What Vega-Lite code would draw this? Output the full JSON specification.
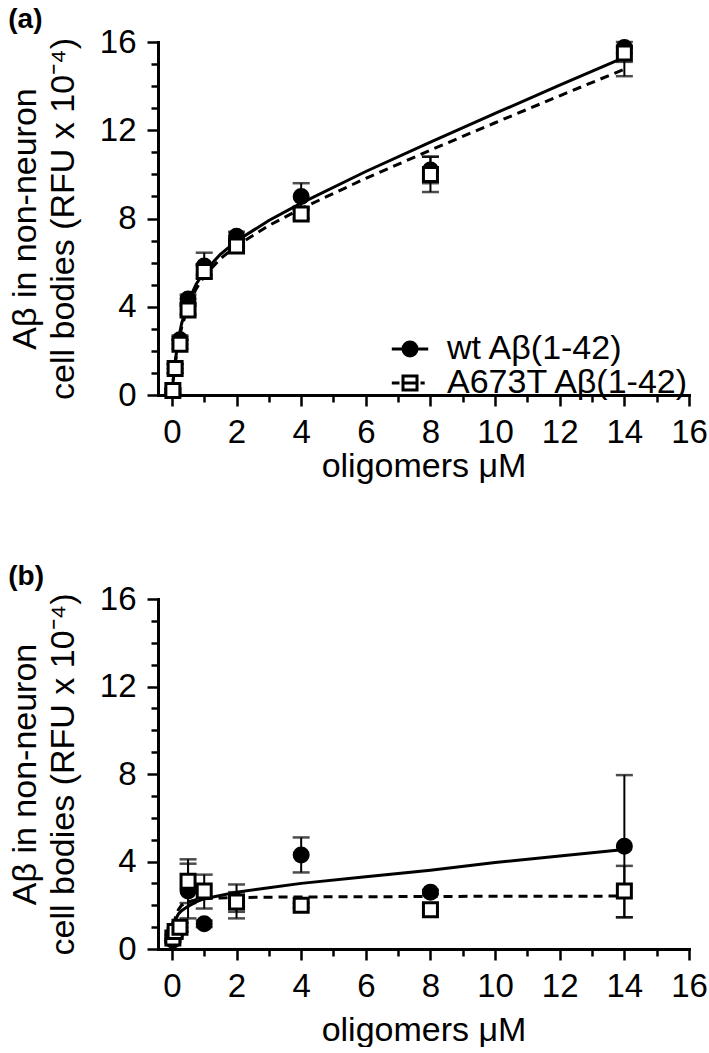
{
  "$schema": "https://vega.github.io/schema/vega-lite/v6.json",
  "background": "white",
  "padding": {"left": 8, "top": 6, "right": 5, "bottom": 0},
  "spacing": 80,
  "resolve": {"scale": {"shape": "independent", "fill": "independent"}, "legend": {"shape": "independent", "fill": "independent"}},
  "config": {
    "font": "Liberation Sans",
    "view": {"stroke": null},
    "axis": {
      "grid": false,
      "domainColor": "black", "domainWidth": 3, "domainCap": "square",
      "tickColor": "black", "tickWidth": 2.5,
      "labelColor": "black", "labelFont": "Liberation Sans", "labelFontSize": 33,
      "titleColor": "black", "titleFont": "Liberation Sans", "titleFontSize": 34, "titleFontWeight": "normal"
    },
    "title": {"font": "Liberation Sans", "fontSize": 28, "fontWeight": "bold", "color": "black", "anchor": "start", "frame": "bounds", "offset": -8},
    "legend": {"labelFont": "Liberation Sans", "labelFontSize": 34, "labelColor": "black"}
  },
  "datasets": {
    "pa": [
      {"series": "wt Aβ(1-42)", "conc": 0.03, "val": 0.2, "lo": 0.1, "hi": 0.3},
      {"series": "wt Aβ(1-42)", "conc": 0.1, "val": 1.2, "lo": 1.0, "hi": 1.4},
      {"series": "wt Aβ(1-42)", "conc": 0.25, "val": 2.5, "lo": 2.3, "hi": 2.7},
      {"series": "wt Aβ(1-42)", "conc": 0.5, "val": 4.35, "lo": 4.15, "hi": 4.55},
      {"series": "wt Aβ(1-42)", "conc": 1, "val": 5.85, "lo": 5.45, "hi": 6.45},
      {"series": "wt Aβ(1-42)", "conc": 2, "val": 7.2, "lo": 7.0, "hi": 7.4},
      {"series": "wt Aβ(1-42)", "conc": 4, "val": 9.0, "lo": 8.5, "hi": 9.6},
      {"series": "wt Aβ(1-42)", "conc": 8, "val": 10.2, "lo": 9.6, "hi": 10.8},
      {"series": "wt Aβ(1-42)", "conc": 14, "val": 15.75, "lo": 15.1, "hi": 16.0},
      {"series": "A673T Aβ(1-42)", "conc": 0.03, "val": 0.2, "lo": 0.1, "hi": 0.3},
      {"series": "A673T Aβ(1-42)", "conc": 0.1, "val": 1.2, "lo": 1.0, "hi": 1.4},
      {"series": "A673T Aβ(1-42)", "conc": 0.25, "val": 2.3, "lo": 2.1, "hi": 2.5},
      {"series": "A673T Aβ(1-42)", "conc": 0.5, "val": 3.85, "lo": 3.65, "hi": 4.05},
      {"series": "A673T Aβ(1-42)", "conc": 1, "val": 5.6, "lo": 5.3, "hi": 5.9},
      {"series": "A673T Aβ(1-42)", "conc": 2, "val": 6.75, "lo": 6.55, "hi": 6.95},
      {"series": "A673T Aβ(1-42)", "conc": 4, "val": 8.2, "lo": 8.0, "hi": 8.4},
      {"series": "A673T Aβ(1-42)", "conc": 8, "val": 10.0, "lo": 9.2, "hi": 10.8},
      {"series": "A673T Aβ(1-42)", "conc": 14, "val": 15.5, "lo": 14.45, "hi": 15.5}
    ],
    "ca": [
      {"series": "wt Aβ(1-42)", "conc": 0, "val": 0},
      {"series": "wt Aβ(1-42)", "conc": 0.05, "val": 0.84},
      {"series": "wt Aβ(1-42)", "conc": 0.1, "val": 1.51},
      {"series": "wt Aβ(1-42)", "conc": 0.2, "val": 2.51},
      {"series": "wt Aβ(1-42)", "conc": 0.3, "val": 3.23},
      {"series": "wt Aβ(1-42)", "conc": 0.5, "val": 4.22},
      {"series": "wt Aβ(1-42)", "conc": 0.75, "val": 5.02},
      {"series": "wt Aβ(1-42)", "conc": 1, "val": 5.58},
      {"series": "wt Aβ(1-42)", "conc": 1.5, "val": 6.38},
      {"series": "wt Aβ(1-42)", "conc": 2, "val": 6.98},
      {"series": "wt Aβ(1-42)", "conc": 3, "val": 7.91},
      {"series": "wt Aβ(1-42)", "conc": 4, "val": 8.7},
      {"series": "wt Aβ(1-42)", "conc": 6, "val": 10.13},
      {"series": "wt Aβ(1-42)", "conc": 8, "val": 11.46},
      {"series": "wt Aβ(1-42)", "conc": 10, "val": 12.76},
      {"series": "wt Aβ(1-42)", "conc": 12, "val": 14.04},
      {"series": "wt Aβ(1-42)", "conc": 14, "val": 15.3},
      {"series": "A673T Aβ(1-42)", "conc": 0, "val": 0},
      {"series": "A673T Aβ(1-42)", "conc": 0.05, "val": 0.77},
      {"series": "A673T Aβ(1-42)", "conc": 0.1, "val": 1.4},
      {"series": "A673T Aβ(1-42)", "conc": 0.2, "val": 2.35},
      {"series": "A673T Aβ(1-42)", "conc": 0.3, "val": 3.05},
      {"series": "A673T Aβ(1-42)", "conc": 0.5, "val": 4.02},
      {"series": "A673T Aβ(1-42)", "conc": 0.75, "val": 4.81},
      {"series": "A673T Aβ(1-42)", "conc": 1, "val": 5.38},
      {"series": "A673T Aβ(1-42)", "conc": 1.5, "val": 6.18},
      {"series": "A673T Aβ(1-42)", "conc": 2, "val": 6.76},
      {"series": "A673T Aβ(1-42)", "conc": 3, "val": 7.68},
      {"series": "A673T Aβ(1-42)", "conc": 4, "val": 8.45},
      {"series": "A673T Aβ(1-42)", "conc": 6, "val": 9.82},
      {"series": "A673T Aβ(1-42)", "conc": 8, "val": 11.1},
      {"series": "A673T Aβ(1-42)", "conc": 10, "val": 12.34},
      {"series": "A673T Aβ(1-42)", "conc": 12, "val": 13.56},
      {"series": "A673T Aβ(1-42)", "conc": 14, "val": 14.77}
    ],
    "pb": [
      {"series": "wt Aβ(1-42)", "conc": 0.03, "val": 0.4, "lo": 0.3, "hi": 0.5},
      {"series": "wt Aβ(1-42)", "conc": 0.1, "val": 0.7, "lo": 0.55, "hi": 0.85},
      {"series": "wt Aβ(1-42)", "conc": 0.25, "val": 1.0, "lo": 0.8, "hi": 1.2},
      {"series": "wt Aβ(1-42)", "conc": 0.5, "val": 2.65, "lo": 1.4, "hi": 3.9},
      {"series": "wt Aβ(1-42)", "conc": 1, "val": 1.15, "lo": 1.0, "hi": 1.3},
      {"series": "wt Aβ(1-42)", "conc": 2, "val": 2.2, "lo": 1.4, "hi": 2.95},
      {"series": "wt Aβ(1-42)", "conc": 4, "val": 4.3, "lo": 3.5, "hi": 5.1},
      {"series": "wt Aβ(1-42)", "conc": 8, "val": 2.6, "lo": 2.5, "hi": 2.7},
      {"series": "wt Aβ(1-42)", "conc": 14, "val": 4.7, "lo": 1.45, "hi": 7.95},
      {"series": "A673T Aβ(1-42)", "conc": 0.03, "val": 0.5, "lo": 0.35, "hi": 0.65},
      {"series": "A673T Aβ(1-42)", "conc": 0.1, "val": 0.8, "lo": 0.65, "hi": 0.95},
      {"series": "A673T Aβ(1-42)", "conc": 0.25, "val": 1.0, "lo": 0.8, "hi": 1.2},
      {"series": "A673T Aβ(1-42)", "conc": 0.5, "val": 3.1, "lo": 2.1, "hi": 4.1},
      {"series": "A673T Aβ(1-42)", "conc": 1, "val": 2.65, "lo": 1.85, "hi": 3.4},
      {"series": "A673T Aβ(1-42)", "conc": 2, "val": 2.15, "lo": 1.7, "hi": 2.6},
      {"series": "A673T Aβ(1-42)", "conc": 4, "val": 2.0, "lo": 1.9, "hi": 2.1},
      {"series": "A673T Aβ(1-42)", "conc": 8, "val": 1.8, "lo": 1.7, "hi": 1.9},
      {"series": "A673T Aβ(1-42)", "conc": 14, "val": 2.65, "lo": 1.45, "hi": 3.8}
    ],
    "cb": [
      {"series": "wt Aβ(1-42)", "conc": 0, "val": 0.35},
      {"series": "wt Aβ(1-42)", "conc": 0.05, "val": 0.9},
      {"series": "wt Aβ(1-42)", "conc": 0.1, "val": 1.3},
      {"series": "wt Aβ(1-42)", "conc": 0.2, "val": 1.6},
      {"series": "wt Aβ(1-42)", "conc": 0.3, "val": 1.75},
      {"series": "wt Aβ(1-42)", "conc": 0.5, "val": 1.95},
      {"series": "wt Aβ(1-42)", "conc": 0.75, "val": 2.15},
      {"series": "wt Aβ(1-42)", "conc": 1, "val": 2.3},
      {"series": "wt Aβ(1-42)", "conc": 1.5, "val": 2.45},
      {"series": "wt Aβ(1-42)", "conc": 2, "val": 2.6},
      {"series": "wt Aβ(1-42)", "conc": 3, "val": 2.8},
      {"series": "wt Aβ(1-42)", "conc": 4, "val": 3.0},
      {"series": "wt Aβ(1-42)", "conc": 6, "val": 3.3},
      {"series": "wt Aβ(1-42)", "conc": 8, "val": 3.6},
      {"series": "wt Aβ(1-42)", "conc": 10, "val": 3.95},
      {"series": "wt Aβ(1-42)", "conc": 12, "val": 4.25},
      {"series": "wt Aβ(1-42)", "conc": 14, "val": 4.55},
      {"series": "A673T Aβ(1-42)", "conc": 0, "val": 0.4},
      {"series": "A673T Aβ(1-42)", "conc": 0.05, "val": 1.0},
      {"series": "A673T Aβ(1-42)", "conc": 0.1, "val": 1.4},
      {"series": "A673T Aβ(1-42)", "conc": 0.2, "val": 1.8},
      {"series": "A673T Aβ(1-42)", "conc": 0.3, "val": 2.0},
      {"series": "A673T Aβ(1-42)", "conc": 0.5, "val": 2.15},
      {"series": "A673T Aβ(1-42)", "conc": 0.75, "val": 2.25},
      {"series": "A673T Aβ(1-42)", "conc": 1, "val": 2.3},
      {"series": "A673T Aβ(1-42)", "conc": 1.5, "val": 2.33},
      {"series": "A673T Aβ(1-42)", "conc": 2, "val": 2.35},
      {"series": "A673T Aβ(1-42)", "conc": 3, "val": 2.37},
      {"series": "A673T Aβ(1-42)", "conc": 4, "val": 2.38},
      {"series": "A673T Aβ(1-42)", "conc": 6, "val": 2.39},
      {"series": "A673T Aβ(1-42)", "conc": 8, "val": 2.4},
      {"series": "A673T Aβ(1-42)", "conc": 10, "val": 2.41},
      {"series": "A673T Aβ(1-42)", "conc": 12, "val": 2.41},
      {"series": "A673T Aβ(1-42)", "conc": 14, "val": 2.42}
    ]
  },
  "vconcat": [
    {
      "title": {"text": "(a)"},
      "width": 531,
      "height": 353,
      "encoding": {
        "x": {"field": "conc", "type": "quantitative",
          "scale": {"domain": [-0.43, 16], "nice": false, "zero": false},
          "axis": {"title": "oligomers μM", "values": [0,1,2,3,4,5,6,7,8,9,10,11,12,13,14,15,16],
            "labelExpr": "datum.value % 2 === 0 ? datum.label : ''",
            "tickSize": {"condition": {"test": "datum.value % 2 === 0", "value": 11}, "value": 7},
            "labelPadding": 10, "titlePadding": 0, "labelFlush": false, "labelOverlap": false}},
        "y": {"field": "val", "type": "quantitative",
          "scale": {"domain": [0, 16], "nice": false, "zero": false},
          "axis": {"title": ["Aβ in non-neuron", "cell bodies (RFU x 10⁻⁴)"], "values": [0,1,2,3,4,5,6,7,8,9,10,11,12,13,14,15,16],
            "labelExpr": "datum.value % 4 === 0 ? datum.label : ''",
            "tickSize": {"condition": {"test": "datum.value % 4 === 0", "value": 11}, "value": 7},
            "labelPadding": 11, "titlePadding": 19, "titleLineHeight": 38}}
      },
      "layer": [
        {"data": {"name": "ca"}, "transform": [{"filter": "datum.series === 'wt Aβ(1-42)'"}],
          "mark": {"type": "line", "color": "black", "strokeWidth": 3}},
        {"data": {"name": "ca"}, "transform": [{"filter": "datum.series === 'A673T Aβ(1-42)'"}],
          "mark": {"type": "line", "color": "black", "strokeWidth": 3, "strokeDash": [9, 6]}},
        {"data": {"name": "pa"}, "mark": {"type": "rule", "color": "black", "strokeWidth": 2},
          "encoding": {"y": {"field": "lo", "type": "quantitative"}, "y2": {"field": "hi"}}},
        {"data": {"name": "pa"}, "mark": {"type": "tick", "orient": "horizontal", "color": "black", "thickness": 2.5, "size": 17},
          "encoding": {"y": {"field": "lo", "type": "quantitative"}}},
        {"data": {"name": "pa"}, "mark": {"type": "tick", "orient": "horizontal", "color": "black", "thickness": 2.5, "size": 17},
          "encoding": {"y": {"field": "hi", "type": "quantitative"}}},
        {"data": {"name": "pa"}, "transform": [{"filter": "datum.series === 'wt Aβ(1-42)'"}],
          "mark": {"type": "point", "shape": "circle", "filled": true, "fill": "black", "stroke": "black", "strokeWidth": 3, "size": 196, "opacity": 1}},
        {"data": {"name": "pa"}, "transform": [{"filter": "datum.series === 'A673T Aβ(1-42)'"}],
          "mark": {"type": "point", "shape": "square", "filled": true, "fill": "white", "stroke": "black", "strokeWidth": 3, "size": 196, "opacity": 1}},
        {"data": {"name": "pa"},
          "mark": {"type": "point", "filled": true, "stroke": "black", "strokeWidth": 3, "size": 0, "opacity": 1},
          "encoding": {
            "shape": {"field": "series", "type": "nominal",
              "scale": {"domain": ["wt Aβ(1-42)", "A673T Aβ(1-42)"],
                "range": ["M-2.6,0H2.6M1,0A1,1 0 1,1 -1,0A1,1 0 1,1 1,0Z", "M-2.6,0H-1.5M1.5,0H2.1M-1,-1H1V1H-1ZM-1,0H1"]},
              "legend": {"title": null, "orient": "none", "legendX": 235, "legendY": 290, "labelOffset": 20, "rowPadding": -6, "symbolSize": 196, "symbolStrokeWidth": 3, "labelLimit": 0}},
            "fill": {"field": "series", "type": "nominal",
              "scale": {"domain": ["wt Aβ(1-42)", "A673T Aβ(1-42)"], "range": ["black", "white"]}}
          }}
      ]
    },
    {
      "title": {"text": "(b)"},
      "width": 531,
      "height": 350,
      "encoding": {
        "x": {"field": "conc", "type": "quantitative",
          "scale": {"domain": [-0.43, 16], "nice": false, "zero": false},
          "axis": {"title": "oligomers μM", "values": [0,1,2,3,4,5,6,7,8,9,10,11,12,13,14,15,16],
            "labelExpr": "datum.value % 2 === 0 ? datum.label : ''",
            "tickSize": {"condition": {"test": "datum.value % 2 === 0", "value": 11}, "value": 7},
            "labelPadding": 10, "titlePadding": 10, "labelFlush": false, "labelOverlap": false}},
        "y": {"field": "val", "type": "quantitative",
          "scale": {"domain": [0, 16], "nice": false, "zero": false},
          "axis": {"title": ["Aβ in non-neuron", "cell bodies (RFU x 10⁻⁴)"], "values": [0,1,2,3,4,5,6,7,8,9,10,11,12,13,14,15,16],
            "labelExpr": "datum.value % 4 === 0 ? datum.label : ''",
            "tickSize": {"condition": {"test": "datum.value % 4 === 0", "value": 11}, "value": 7},
            "labelPadding": 11, "titlePadding": 19, "titleLineHeight": 38}}
      },
      "layer": [
        {"data": {"name": "cb"}, "transform": [{"filter": "datum.series === 'wt Aβ(1-42)'"}],
          "mark": {"type": "line", "color": "black", "strokeWidth": 3}},
        {"data": {"name": "cb"}, "transform": [{"filter": "datum.series === 'A673T Aβ(1-42)'"}],
          "mark": {"type": "line", "color": "black", "strokeWidth": 3, "strokeDash": [9, 6]}},
        {"data": {"name": "pb"}, "mark": {"type": "rule", "color": "black", "strokeWidth": 2},
          "encoding": {"y": {"field": "lo", "type": "quantitative"}, "y2": {"field": "hi"}}},
        {"data": {"name": "pb"}, "mark": {"type": "tick", "orient": "horizontal", "color": "black", "thickness": 2.5, "size": 17},
          "encoding": {"y": {"field": "lo", "type": "quantitative"}}},
        {"data": {"name": "pb"}, "mark": {"type": "tick", "orient": "horizontal", "color": "black", "thickness": 2.5, "size": 17},
          "encoding": {"y": {"field": "hi", "type": "quantitative"}}},
        {"data": {"name": "pb"}, "transform": [{"filter": "datum.series === 'wt Aβ(1-42)'"}],
          "mark": {"type": "point", "shape": "circle", "filled": true, "fill": "black", "stroke": "black", "strokeWidth": 3, "size": 196, "opacity": 1}},
        {"data": {"name": "pb"}, "transform": [{"filter": "datum.series === 'A673T Aβ(1-42)'"}],
          "mark": {"type": "point", "shape": "square", "filled": true, "fill": "white", "stroke": "black", "strokeWidth": 3, "size": 196, "opacity": 1}}
      ]
    }
  ]
}
